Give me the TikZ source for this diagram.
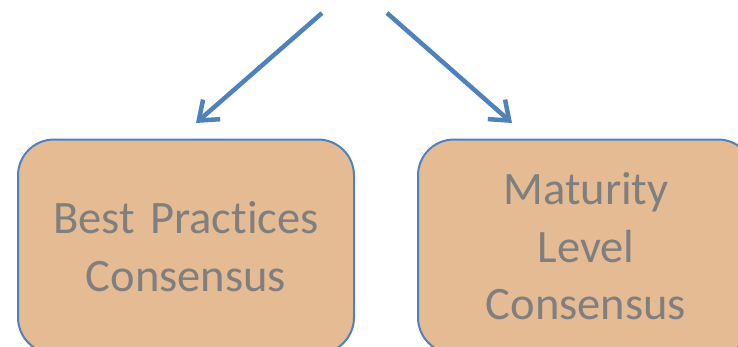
\documentclass[tikz,border=0pt]{standalone}
\usepackage{fontspec}
\setmainfont[Ligatures=NoCommon]{Carlito}
\usetikzlibrary{arrows.meta}

\newlength{\du}
\setlength{\du}{1pt}
\definecolor{edgeblue}{HTML}{4F81BD}
\definecolor{boxtan}{HTML}{E5BB93}
\definecolor{labelgray}{HTML}{7F7F7F}

\tikzset{
  consbox/.style={draw=edgeblue, line width=2\du, fill=boxtan, rounded corners=36\du,
    minimum width=336\du, minimum height=214\du, text width=320\du, align=center,
    text=labelgray, font=\fontsize{46.5\du}{57.5\du}\selectfont},
  flowarrow/.style={draw=edgeblue, line width=4.5\du,
    -{Straight Barb[length=17pt, width=26pt]}}
}

\begin{document}
\begin{tikzpicture}[x=\du, y=-\du]
\useasboundingbox (0,0) rectangle (738,346);
\clip (0,0) rectangle (738,346);
% boxes
\node[consbox] (bestpractices) at (186,246.5) {Best Practices\\Consensus};
\node[consbox] (maturitylevel) at (586,246.5) {Maturity\\Level\\Consensus};
% arrows
\coordinate (startL) at (322,13);
\coordinate (tipL) at (196,123);
\coordinate (startR) at (387,13);
\coordinate (tipR) at (512,123);
\draw[flowarrow] (startL) -- (tipL);
\draw[flowarrow] (startR) -- (tipR);
\end{tikzpicture}
\end{document}
